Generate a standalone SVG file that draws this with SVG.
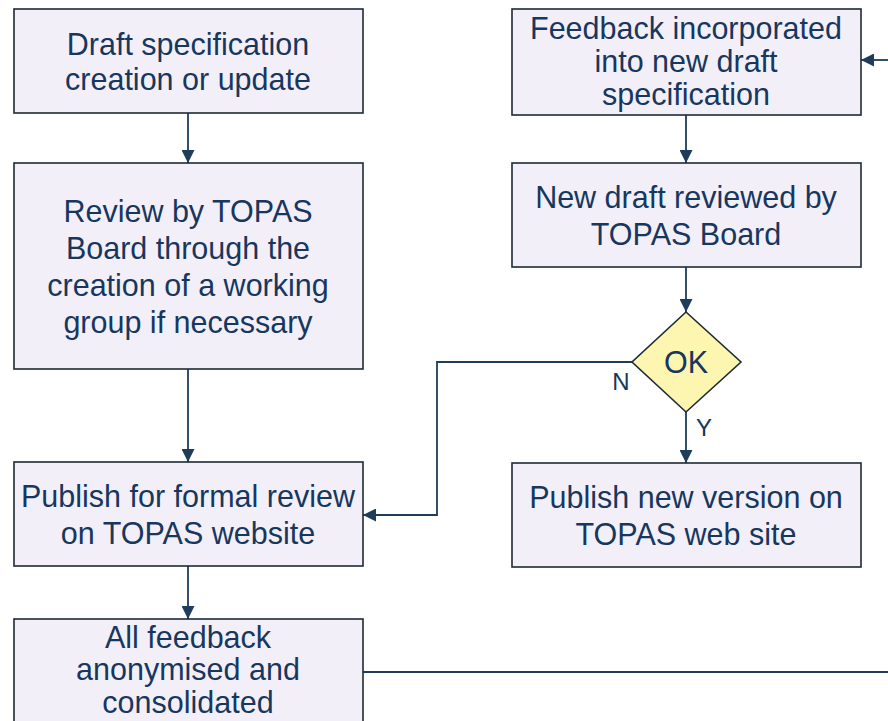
<svg xmlns="http://www.w3.org/2000/svg" width="888" height="721" viewBox="0 0 888 721">
<style>
.box{fill:#f3eff9;stroke:#1e2a36;stroke-width:1.6}
.t{font-family:"Liberation Sans",Arial,sans-serif;font-size:30.5px;fill:#17375e;text-anchor:middle}
.lbl{font-family:"Liberation Sans",Arial,sans-serif;font-size:24px;fill:#17375e;text-anchor:middle}
.c{fill:none;stroke:#1f3c5a;stroke-width:1.8}
</style>
<defs>
<marker id="ah" viewBox="0 0 12 12" refX="12" refY="6" markerWidth="13" markerHeight="13" markerUnits="userSpaceOnUse" orient="auto">
<path d="M0,0 L12,6 L0,12 Z" fill="#1f3c5a"/>
</marker>
</defs>
<g id="connectors">
<path class="c" d="M188,113 V163" marker-end="url(#ah)"/>
<path class="c" d="M188,369 V462" marker-end="url(#ah)"/>
<path class="c" d="M188,566 V619" marker-end="url(#ah)"/>
<path class="c" d="M686,115 V163" marker-end="url(#ah)"/>
<path class="c" d="M686,267 V312" marker-end="url(#ah)"/>
<path class="c" d="M686,412 V463" marker-end="url(#ah)"/>
<path class="c" d="M632,362 H437 V515 H363" marker-end="url(#ah)"/>
<path class="c" d="M363,672 H888"/>
<path class="c" d="M888,60 H861" marker-end="url(#ah)"/>
<text class="lbl" x="621" y="390">N</text>
<text class="lbl" x="704" y="436">Y</text>
</g>
<g id="n1">
<rect class="box" x="14" y="9" width="349" height="104"/>
<text class="t" x="188" y="55">Draft specification</text>
<text class="t" x="188" y="90">creation or update</text>
</g>
<g id="n2">
<rect class="box" x="14" y="163" width="349" height="206"/>
<text class="t" x="188" y="222">Review by TOPAS</text>
<text class="t" x="188" y="259">Board through the</text>
<text class="t" x="188" y="296">creation of a working</text>
<text class="t" x="188" y="333">group if necessary</text>
</g>
<g id="n3">
<rect class="box" x="14" y="462" width="349" height="104"/>
<text class="t" x="188" y="507">Publish for formal review</text>
<text class="t" x="188" y="544">on TOPAS website</text>
</g>
<g id="n4">
<rect class="box" x="14" y="619" width="349" height="110"/>
<text class="t" x="188" y="648">All feedback</text>
<text class="t" x="188" y="680">anonymised and</text>
<text class="t" x="188" y="713">consolidated</text>
</g>
<g id="n5">
<rect class="box" x="512" y="9" width="349" height="106"/>
<text class="t" x="686" y="39">Feedback incorporated</text>
<text class="t" x="686" y="72">into new draft</text>
<text class="t" x="686" y="105">specification</text>
</g>
<g id="n6">
<rect class="box" x="512" y="163" width="349" height="104"/>
<text class="t" x="686" y="208">New draft reviewed by</text>
<text class="t" x="686" y="245">TOPAS Board</text>
</g>
<g id="n7">
<rect class="box" x="512" y="463" width="349" height="104"/>
<text class="t" x="686" y="508">Publish new version on</text>
<text class="t" x="686" y="545">TOPAS web site</text>
</g>
<g id="d1">
<polygon points="686,312 741,362 686,412 632,362" fill="#fdf6b0" stroke="#1e2a36" stroke-width="1.6"/>
<text class="t" x="686" y="373">OK</text>
</g>
</svg>
